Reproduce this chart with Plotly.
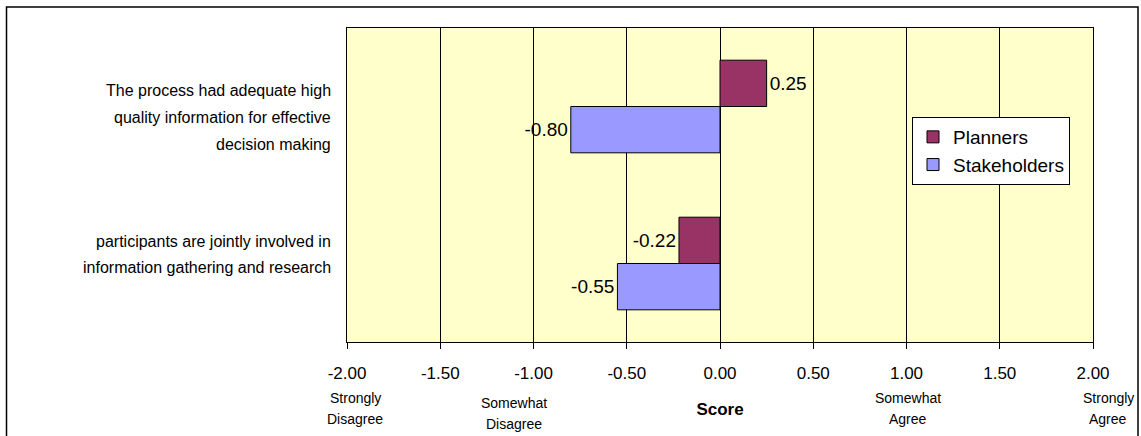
import plotly.graph_objects as go

# Survey statements (top to bottom, one entry per text line) and mean scores per group
statements = [
    ["The process had adequate high", "quality information for effective", "decision making"],
    ["participants are jointly involved in", "information gathering and research"],
]
planners = [0.25, -0.22]
stakeholders = [-0.80, -0.55]

tick_vals = [-2.0, -1.5, -1.0, -0.5, 0.0, 0.5, 1.0, 1.5, 2.0]
tick_text = [f"{v:.2f}" for v in tick_vals]
scale_labels = [["Strongly", "Disagree"], ["Somewhat", "Disagree"], ["Somewhat", "Agree"], ["Strongly", "Agree"]]

W, H = 1141, 436
L, R, T, B = 347, 48, 28, 94
pw, ph = W - L - R, H - T - B


def px_x(px):
    return (px - L) / pw


def px_y(py):
    return (T + ph - py) / ph


font_main = "Liberation Sans, Arial, sans-serif"

# layout of the text blocks (pixel positions)
statement_first_line = [91, 241]
statement_line_gap = 26.5
scale_x = [355, 514, 908, 1108]
scale_first_line = [398, 403, 398, 398]
scale_line_gap = 21

cat_ids = ["q1", "q2"]

fig = go.Figure()
fig.add_trace(go.Bar(
    name="Planners", y=cat_ids, x=planners, orientation="h",
    marker=dict(color="#993366", line=dict(color="black", width=1)),
    text=[f"{v:.2f}" for v in planners], textposition="outside",
    textfont=dict(family=font_main, size=19, color="black"),
    cliponaxis=False,
))
fig.add_trace(go.Bar(
    name="Stakeholders", y=cat_ids, x=stakeholders, orientation="h",
    marker=dict(color="#9999FF", line=dict(color="black", width=1)),
    text=[f"{v:.2f}" for v in stakeholders], textposition="outside",
    textfont=dict(family=font_main, size=19, color="black"),
    cliponaxis=False,
))

annotations = []
# statement labels on the left, right-aligned against the plot
for lines, y0 in zip(statements, statement_first_line):
    for i, line in enumerate(lines):
        annotations.append(dict(
            x=px_x(333), xref="paper", xanchor="right",
            y=px_y(y0 + i * statement_line_gap), yref="paper", yanchor="middle",
            text=line, showarrow=False,
            font=dict(family=font_main, size=16, color="black"),
        ))
# agreement scale under the axis
for lines, cx, y0 in zip(scale_labels, scale_x, scale_first_line):
    for i, line in enumerate(lines):
        annotations.append(dict(
            x=px_x(cx), xref="paper", xanchor="center",
            y=px_y(y0 + i * scale_line_gap), yref="paper", yanchor="middle",
            text=line, showarrow=False,
            font=dict(family=font_main, size=14, color="black"),
        ))

# outer chart frame
shapes = [dict(
    type="rect", xref="paper", yref="paper",
    x0=px_x(6.5), x1=px_x(1138), y0=px_y(450), y1=px_y(7),
    line=dict(color="black", width=1.5), fillcolor="rgba(0,0,0,0)", layer="below",
)]

fig.update_layout(
    width=W, height=H,
    margin=dict(l=L, r=R, t=T, b=B, autoexpand=False),
    paper_bgcolor="white", plot_bgcolor="#FFFFCC",
    barmode="group", bargap=0.41, bargroupgap=0,
    showlegend=True,
    legend=dict(
        x=px_x(912), y=px_y(117), xanchor="left", yanchor="top",
        bgcolor="white", bordercolor="black", borderwidth=1,
        font=dict(family=font_main, size=19, color="black"),
        traceorder="normal", itemwidth=30, tracegroupgap=0,
    ),
    xaxis=dict(
        range=[-2, 2], tickvals=tick_vals, ticktext=tick_text,
        showgrid=True, gridcolor="black", gridwidth=1,
        zeroline=False, showline=True, linecolor="black", mirror=True,
        ticks="outside", ticklen=6, tickcolor="black", ticklabelstandoff=10,
        tickfont=dict(family=font_main, size=17, color="black"),
        title=dict(text="<b>Score</b>", standoff=20,
                   font=dict(family=font_main, size=17, color="black")),
        fixedrange=True,
    ),
    yaxis=dict(
        categoryorder="array", categoryarray=cat_ids, autorange="reversed",
        showticklabels=False, showgrid=False, zeroline=False,
        showline=True, linecolor="black", mirror=True, ticks="",
        fixedrange=True,
    ),
    annotations=annotations,
    shapes=shapes,
)

fig.write_html("out.html")
